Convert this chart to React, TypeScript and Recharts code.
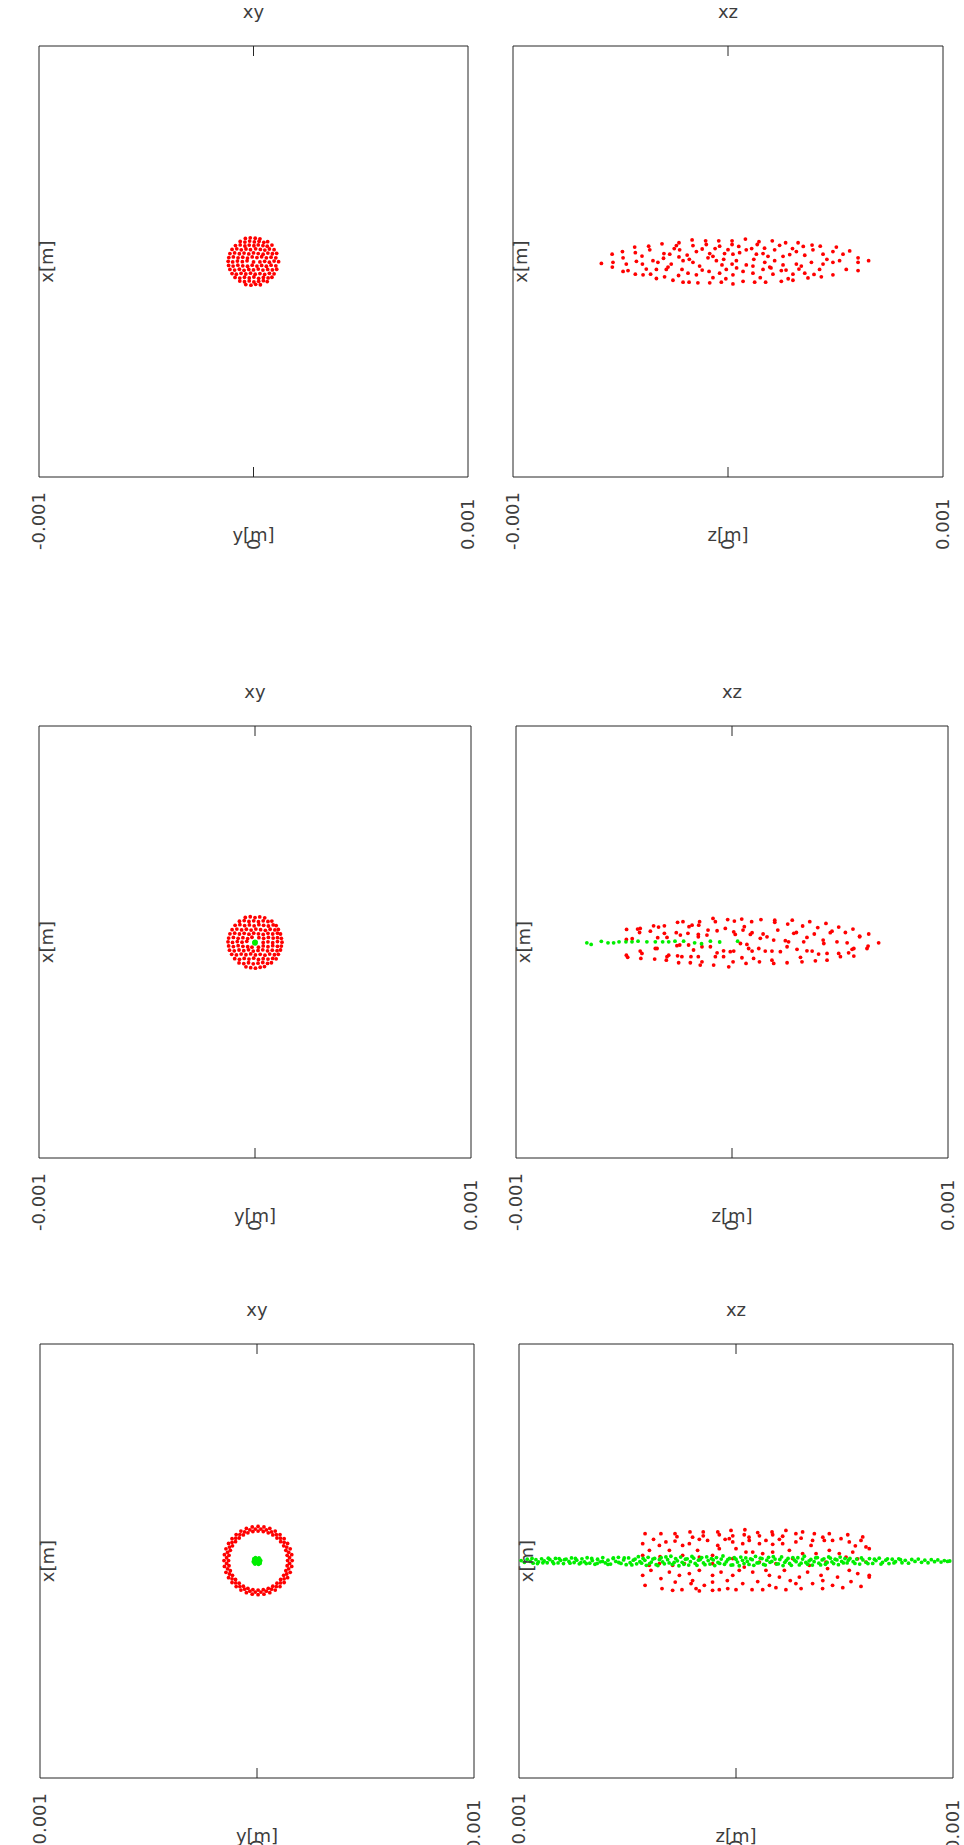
import React from 'react';
import { ScatterChart, Scatter, XAxis, YAxis } from 'recharts';

type P = [number, number];

// ---- text / ticks ----
const axisTicks = [-0.001, 0, 0.001];
const tickLabels = ['-0.001', '0', '0.001'];
const titles = ['xy', 'xz', 'xy', 'xz', 'xy', 'xz'];
const hLabels = ['y[m]', 'z[m]', 'y[m]', 'z[m]', 'y[m]', 'z[m]'];
const vLabel = 'x[m]';

// ---- data (micrometres: [horizontal, vertical]) ----
const p1Red: P[] = [
  [-38,107],[-15,110],[8,108],[30,105],
  [-62,93],[-40,90],[-18,95],[4,91],[26,94],[48,89],[66,92],
  [-84,74],[-62,77],[-40,72],[-20,76],[2,73],[22,77],[44,74],[64,71],[86,76],
  [-100,56],[-78,59],[-57,54],[-35,58],[-14,55],[10,59],[32,56],[53,53],[74,58],[96,55],
  [-110,37],[-88,40],[-66,36],[-44,39],[-22,35],[0,40],[22,37],[45,34],[67,39],[88,36],[108,38],
  [-115,18],[-94,21],[-72,17],[-50,20],[-28,16],[-6,21],[16,18],[38,22],[60,17],[82,20],[104,17],
  [-118,1],[-97,-2],[-75,2],[-52,-1],[-30,3],[30,-2],[52,1],[74,-3],[96,2],[117,-1],[0,-2],
  [-116,-18],[-95,-21],[-73,-17],[-50,-20],[-28,-22],[-6,-17],[16,-21],[38,-18],[60,-22],[82,-17],[104,-20],
  [-110,-37],[-88,-40],[-66,-36],[-44,-41],[-22,-37],[0,-39],[22,-35],[44,-40],[66,-37],[88,-39],[108,-36],
  [-100,-56],[-80,-59],[-58,-55],[-36,-58],[-14,-54],[8,-59],[30,-56],[52,-60],[74,-55],[96,-57],
  [-86,-74],[-64,-77],[-42,-73],[-20,-76],[2,-72],[24,-78],[46,-74],[68,-76],[86,-73],
  [-64,-91],[-42,-94],[-20,-90],[2,-95],[24,-92],[46,-89],[64,-93],
  [-36,-107],[-12,-110],[10,-106],[32,-108],
];

const p2Red: P[] = [
  [-307,82],[-228,87],[-167,100],[-104,96],[-43,96],[19,96],[81,104],[144,92],[206,96],[268,87],[326,87],[391,76],[429,71],[504,67],
  [-240,74],[-163,74],[-101,79],[-39,71],[19,79],[136,79],
  [-539,34],[-491,46],[-434,67],[-431,41],[-369,71],[-364,54],[-298,37],[-271,34],[-228,21],[-225,54],[-147,46],[-85,37],[-70,24],[-16,37],[23,34],[54,41],[85,54],[132,34],[163,37],[186,24],[217,54],[256,24],[287,32],[318,46],[357,29],[395,54],[442,34],[488,46],[535,34],[566,49],[605,17],
  [-589,-9],[-535,-4],[-538,-26],[-488,17],[-473,-12],[-426,1],[-398,-12],[-349,4],[-326,-4],[-279,-26],[-264,-12],[-209,4],[-163,-4],[-132,-21],[-93,17],[-54,4],[-28,-16],[19,-12],[39,4],[85,-16],[116,-21],[171,-4],[194,-26],[217,4],[256,-16],[318,-12],[341,-21],[388,-4],[442,-12],[488,-4],[519,4],[605,-4],[654,4],
  [-488,-46],[-465,-42],[-431,-59],[-395,-62],[-360,-59],[-333,-37],[-287,-37],[-214,-37],[-186,-54],[-147,-62],[-88,-46],[-39,-54],[-8,-37],[23,-62],[70,-46],[116,-54],[163,-37],[209,-59],[248,-42],[302,-59],[357,-54],[426,-37],[488,-62],[550,-37],[605,-42],
  [-333,-79],[-295,-71],[-256,-87],[-209,-96],[-181,-96],[-140,-99],[-85,-99],[-31,-96],[23,-104],[70,-92],[124,-96],[175,-96],[248,-92],[302,-87],[372,-76],[434,-71],
  [-250,60],[-190,30],[-120,58],[-60,60],[0,55],[50,70],[110,60],[170,62],[240,75],[300,60],[350,70],[-400,25],[-300,15],[-120,-40],[-70,-75],[-10,-80],[40,-30],[150,-75],[200,-30],[280,-80],[330,-35],[400,-60],[-230,-65],[-380,-35],[460,10],[-180,10],[-20,10],[120,10],[270,-40],
];

const p3Red: P[] = [
  [-45,114],[-22,117],[0,113],[22,116],[45,112],
  [-72,96],[-50,99],[-28,95],[-6,98],[16,94],[38,98],[60,95],[78,97],
  [-92,77],[-70,80],[-48,76],[-26,79],[-4,75],[18,80],[40,77],[62,74],[84,79],[98,76],
  [-106,57],[-84,60],[-62,56],[-40,59],[-18,55],[4,60],[26,57],[48,54],[70,59],[92,56],[108,58],
  [-116,38],[-94,41],[-72,37],[-50,40],[-28,36],[-6,41],[16,38],[38,35],[60,40],[82,37],[104,41],[118,37],
  [-122,18],[-100,21],[-78,17],[-56,20],[-34,16],[-14,22],[18,20],[40,17],[62,21],[84,18],[104,20],[122,17],
  [-125,1],[-104,-2],[-82,2],[-60,-1],[-38,3],[38,-2],[60,1],[82,-3],[104,2],[125,-1],
  [-122,-18],[-100,-21],[-78,-17],[-56,-20],[-34,-22],[-14,-24],[16,-24],[38,-18],[60,-22],[82,-17],[104,-20],[122,-19],
  [-118,-38],[-96,-41],[-74,-37],[-52,-40],[-30,-36],[-8,-42],[14,-39],[36,-36],[58,-41],[80,-38],[102,-40],[118,-37],
  [-108,-57],[-86,-60],[-64,-56],[-42,-59],[-20,-55],[2,-60],[24,-57],[46,-61],[68,-56],[90,-59],[108,-57],
  [-94,-77],[-72,-80],[-50,-76],[-28,-79],[-6,-75],[16,-81],[38,-77],[60,-79],[82,-76],[98,-78],
  [-74,-97],[-52,-100],[-30,-96],[-8,-101],[14,-98],[36,-95],[58,-99],[76,-96],
  [-42,-115],[-20,-119],[2,-121],[24,-117],[44,-114],
];
const p3Green: P[] = [[0,-3],[5,0],[-5,-2],[2,-8],[-3,2],[4,-6],[-4,-7],[1,3]];

const p4Red: P[] = [
  [-88,109],[-77,94],[-20,104],[11,97],[45,106],[91,94],[134,104],[198,101],[198,91],[258,83],[279,101],[327,74],[360,94],[397,67],[435,86],[463,50],[494,69],[525,44],[560,60],[591,27],[633,37],[679,-4],
  [-150,94],[-154,78],[-199,71],[-185,78],[-252,91],[-227,94],[-313,75],[-340,69],[-363,75],[-425,63],[-437,60],[-488,58],
  [-489,12],[-462,15],[-428,44],[-378,50],[-344,20],[-301,21],[-313,40],[-258,43],[-239,32],[-204,40],[-156,35],[-156,24],[-116,32],[-111,55],[-69,52],[-31,63],[8,47],[15,35],[51,55],[57,71],[93,43],[85,35],[131,17],[144,37],[162,24],[193,9],[212,55],[247,6],[262,1],[298,44],[286,40],[332,1],[347,21],[381,37],[422,9],[425,-7],[455,43],[486,1],[533,-4],[564,-30],[591,24],
  [-425,-42],[-417,-53],[-355,-30],[-347,-30],[-301,-68],[-293,-61],[-255,-17],[-242,-14],[-201,-14],[-178,-37],[-139,-22],[-100,-22],[-69,-50],[-39,-41],[-8,-45],[8,-42],[39,-7],[69,-11],[77,-30],[93,-42],[124,-30],[154,-42],[185,-42],[224,-45],[255,-22],[301,-34],[347,-41],[371,-42],[401,-56],[440,-53],[494,-53],[540,-50],[556,-34],[625,-30],[630,-19],
  [-489,-61],[-483,-71],[-422,-76],[-358,-79],[-304,-84],[-252,-64],[-232,-68],[-247,-96],[-190,-68],[-193,-96],[-156,-68],[-139,-92],[-147,-107],[-85,-107],[-77,-68],[-39,-68],[-15,-115],[5,-92],[46,-73],[65,-99],[100,-76],[127,-92],[185,-84],[193,-99],[255,-96],[317,-71],[324,-92],[386,-87],[440,-84],[502,-68],[564,-65],
];
const p4Green: P[] = [
  [-672,-4],[-652,-11],[-605,3],[-574,-4],[-548,-4],[-523,1],[-491,1],[-463,1],[-435,4],[-394,1],
  [-355,1],[-321,1],[-293,1],[-264,4],[-224,4],[-173,-4],[-141,-8],[-100,4],[-57,0],[26,4],
];

const p5Red: P[] = [
  [162,2],[160,29],[153,56],[141,81],[125,103],[106,122],[84,138],[59,150],[32,157],[5,159],
  [150,15],[146,40],[137,64],[125,86],[108,105],[89,122],[67,134],[43,143],[18,147],
  [141,2],[139,26],[133,49],[123,70],[109,89],[92,106],[73,120],[52,130],[29,136],[5,138],
  [-22,157],[-49,150],[-74,138],[-96,122],[-115,103],[-131,81],[-143,56],[-150,29],[-152,2],
  [-8,147],[-33,143],[-57,134],[-79,122],[-98,105],[-115,86],[-127,64],[-136,40],[-140,15],
  [-19,136],[-42,130],[-63,120],[-82,106],[-99,89],[-113,70],[-123,49],[-129,26],[-131,2],
  [-150,-25],[-143,-52],[-131,-77],[-115,-99],[-96,-118],[-74,-134],[-49,-146],[-22,-153],[5,-155],
  [-140,-11],[-136,-36],[-127,-60],[-115,-82],[-98,-101],[-79,-118],[-57,-130],[-33,-139],[-8,-143],
  [-129,-22],[-123,-45],[-113,-66],[-99,-85],[-82,-102],[-63,-116],[-42,-126],[-19,-132],[5,-134],
  [32,-153],[59,-146],[84,-134],[106,-118],[125,-99],[141,-77],[153,-52],[160,-25],
  [18,-143],[43,-139],[67,-130],[89,-118],[108,-101],[125,-82],[137,-60],[146,-36],[150,-11],
  [29,-132],[52,-126],[73,-116],[92,-102],[109,-85],[123,-66],[133,-45],[139,-22],
];
const p5Green: P[] = [
  [0,0],[10,2],[-10,-2],[3,10],[-4,9],[3,-10],[-5,-9],[15,-5],[-15,5],[13,9],[-12,-10],
  [7,-15],[-7,15],[17,2],[-17,-3],[9,14],[-9,-14],[14,-11],[-14,11],
];

const p6Red: P[] = [
  [-419,126],[-346,126],[-281,126],[-212,134],[-151,134],[-84,134],[-23,141],[41,144],[100,131],[166,134],[230,141],[276,126],[307,134],[361,126],[430,126],[515,121],[584,111],[-272,112],[-151,116],[-77,121],[-15,116],[38,121],[108,116],[169,121],[215,114],
  [-430,80],[-353,72],[-323,88],[-281,92],[-246,72],[-215,80],[-169,100],[-131,95],[-84,72],[-31,103],[-15,88],[31,80],[61,95],[108,80],[138,95],[169,77],[215,80],[276,88],[353,95],[346,72],[407,95],[445,95],[484,103],[522,88],[576,95],[599,65],
  [-399,49],[-307,49],[-246,26],[-177,49],[-108,26],[-77,57],[0,57],[46,41],[77,41],[123,34],[169,41],[246,49],[307,34],[369,34],[430,49],[476,34],[538,41],[614,57],
  [-430,26],[-353,-12],[-292,-20],[-238,-12],[-169,18],[-108,-12],[-15,11],[38,-28],[108,-5],[184,-12],[261,11],[338,-20],[415,-5],[507,18],[599,-5],
  [-430,-66],[-392,-43],[-346,-81],[-307,-51],[-261,-66],[-215,-58],[-169,-43],[-108,-66],[-69,-51],[-15,-66],[15,-43],[77,-51],[138,-43],[154,-66],[200,-74],[223,-43],[292,-74],[330,-51],[392,-66],[422,-35],[468,-74],[522,-43],[561,-58],[614,-66],
  [-419,-112],[-341,-127],[-280,-97],[-249,-132],[-207,-104],[-184,-127],[-146,-112],[-108,-97],[-77,-132],[-38,-127],[0,-132],[31,-104],[74,-132],[123,-132],[154,-112],[184,-123],[230,-132],[276,-104],[300,-127],[353,-104],[399,-127],[445,-112],[492,-123],[576,-117],[614,-74],[-292,-135],[-169,-138],[-108,-135],
  [-380,100],[-200,110],[-50,100],[60,110],[200,100],[300,105],[400,110],[550,70],[-350,20],[-200,-90],[-40,-90],[100,-95],[250,-90],[400,-90],[530,-95],[-400,-20],[560,10],
];
const p6Green: P[] = [
  [-990,2],[-975,-6],[-962,8],[-948,-2],[-935,-10],[-922,6],[-910,-4],[-896,10],[-884,0],[-870,-8],[-858,7],[-845,-3],[-832,12],[-820,-9],[-808,3],[-795,-12],[-783,9],[-770,-2],[-758,14],[-746,-7],
  [-734,4],[-722,-13],[-710,10],[-698,-4],[-686,15],[-674,-10],[-662,2],[-650,-15],[-638,8],[-626,-4],[-614,16],[-602,-9],[-590,4],[-578,-14],[-566,11],[-554,-2],[-542,17],[-530,-11],[-518,5],[-506,-17],
  [-940,12],[-915,-12],[-890,-8],[-865,13],[-840,-12],[-815,11],[-790,6],[-765,-10],[-740,12],[-715,-8],[-690,-12],[-665,12],[-640,-11],[-615,-2],[-590,-16],[-565,14],[-540,-7],[-515,14],
  [-495,14],[-488,-8],[-480,-18],[-473,4],[-465,9],[-458,-13],[-450,20],[-443,-3],[-435,-10],[-428,12],[-420,3],[-413,-20],[-405,17],[-398,-12],[-390,-5],[-383,9],[-375,12],[-368,-17],[-360,-21],[-353,6],
  [-345,15],[-338,-4],[-330,-13],[-323,19],[-315,6],[-308,-9],[-300,22],[-293,-16],[-285,-7],[-278,11],[-270,1],[-263,-22],[-255,18],[-248,-6],[-240,-15],[-233,8],[-225,10],[-218,-19],[-210,-3],[-203,21],
  [-195,13],[-188,-11],[-180,-20],[-173,4],[-165,7],[-158,16],[-150,-9],[-143,-17],[-135,19],[-128,2],[-120,-14],[-113,11],[-105,5],[-98,-21],[-90,16],[-83,-7],[-75,-11],[-68,9],[-60,23],[-53,-15],
  [-45,-4],[-38,6],[-30,12],[-23,-19],[-15,-18],[-8,15],[0,8],[7,-5],[15,-22],[22,18],[30,3],[37,-12],[45,14],[52,-2],[60,-16],[67,10],[75,6],[82,-20],[90,21],[97,-9],
  [105,-8],[112,13],[120,11],[127,-16],[135,-19],[142,4],[150,17],[157,-6],[165,-2],[172,20],[180,9],[187,-14],[195,-13],[202,7],[210,19],[217,-21],[225,-6],[232,3],[240,12],[247,-11],
  [255,-20],[262,16],[270,4],[277,-3],[285,15],[292,-18],[300,-10],[307,9],[315,22],[322,-7],[330,-15],[337,1],[345,7],[352,-19],[360,-3],[367,14],[375,16],[382,-10],[390,-18],[397,5],
  [405,10],[412,-15],[420,-7],[427,19],[435,13],[442,-4],[450,-12],[457,8],[465,5],[472,-17],[480,18],[487,-2],[495,-9],[502,11],
  [512,-9],[525,12],[540,-3],[556,9],[570,-14],[585,5],[600,-6],[615,11],[630,-11],[645,2],[660,13],[675,-7],[690,4],[705,-12],[720,8],[735,-3],[750,10],[765,-8],[780,3],[795,-10],
  [810,7],[825,-2],[840,9],[855,-6],[870,4],[885,-8],[900,6],[915,-3],[930,5],[945,-5],[960,2],[975,-2],[985,0],
  [518,4],[548,-11],[578,14],[608,-12],[638,8],[668,-14],[698,10],[728,-9],[758,6],
];

const redSets: P[][] = [p1Red, p2Red, p3Red, p4Red, p5Red, p6Red];
const greenSets: P[][] = [[], [], p3Green, p4Green, p5Green, p6Green];

// ---- layout (plot-box geometry in page pixels) ----
const LAYOUT = [
  { left: 39, top: 46, w: 429, h: 431 },
  { left: 513, top: 46, w: 430, h: 431 },
  { left: 39, top: 726, w: 432, h: 432 },
  { left: 516, top: 726, w: 432, h: 432 },
  { left: 40, top: 1344, w: 434, h: 434 },
  { left: 519, top: 1344, w: 434, h: 434 },
];
const OUT = { top: 50, right: 20, bottom: 90, left: 20 }; // space around the plot box
const AXS = 1; // axis band size
const MARGIN = { top: OUT.top - AXS, right: OUT.right - AXS, bottom: OUT.bottom - AXS, left: OUT.left - AXS };
const FONT = 'DejaVu Sans';
const TXT = '#3d3d3d';
const AX = '#262626';
const RED = '#ff0000';
const GREEN = '#00ee00';
const DOMAIN: [number, number] = [-0.001, 0.001];

const toRows = (pts: P[]) => pts.map(([a, b]) => ({ h: a * 1e-6, v: b * 1e-6 }));

const labelFor = (value: number) => {
  const i = axisTicks.findIndex((t) => Math.abs(t - value) < 1e-12);
  return i >= 0 ? tickLabels[i] : '';
};

const makeBottomTick = (axisLabel: string) => (p: any) => {
  const { x, y, payload } = p;
  const isZero = Math.abs(payload.value) < 1e-12;
  const ly = y + 73;
  return (
    <g>
      {isZero && <line x1={x} y1={y} x2={x} y2={y - 10} stroke={AX} strokeWidth={1} />}
      <text x={x} y={ly} transform={`rotate(-90 ${x} ${ly})`} textAnchor="start" dy="0.36em"
        fontFamily={FONT} fontSize={18} fill={TXT}>{labelFor(payload.value)}</text>
      {isZero && (
        <text x={x} y={y + 64} textAnchor="middle" fontFamily={FONT} fontSize={18} fill={TXT}>{axisLabel}</text>
      )}
    </g>
  );
};

const makeTopTick = (title: string) => (p: any) => {
  const { x, y } = p;
  return (
    <g>
      <line x1={x} y1={y} x2={x} y2={y + 10} stroke={AX} strokeWidth={1} />
      <text x={x} y={y - 28} textAnchor="middle" fontFamily={FONT} fontSize={18} fill={TXT}>{title}</text>
    </g>
  );
};

const makeLeftTick = (label: string) => (p: any) => {
  const lx = p.x + 14;
  const ly = p.y;
  return (
    <text x={lx} y={ly} transform={`rotate(-90 ${lx} ${ly})`} textAnchor="middle"
      fontFamily={FONT} fontSize={18} fill={TXT}>{label}</text>
  );
};

const dot = (color: string) => (p: any) => <circle cx={p.cx} cy={p.cy} r={1.9} fill={color} />;

function Panel({ idx }: { idx: number }) {
  const L = LAYOUT[idx];
  const W = L.w + OUT.left + OUT.right;
  const H = L.h + OUT.top + OUT.bottom;
  const red = toRows(redSets[idx]);
  const green = toRows(greenSets[idx]);
  return (
    <div style={{ position: 'absolute', left: L.left - OUT.left, top: L.top - OUT.top, width: W, height: H }}>
      <ScatterChart width={W} height={H} margin={MARGIN} style={{ overflow: 'visible' }}>
        <XAxis xAxisId="b" type="number" dataKey="h" orientation="bottom" domain={DOMAIN} ticks={axisTicks}
          allowDataOverflow interval={0} height={AXS} tickSize={0} tickMargin={0} tickLine={false}
          axisLine={{ stroke: AX, strokeWidth: 1 }} tick={makeBottomTick(hLabels[idx])} />
        <XAxis xAxisId="t" type="number" dataKey="h" orientation="top" domain={DOMAIN} ticks={[0]}
          allowDataOverflow interval={0} height={AXS} tickSize={0} tickMargin={0} tickLine={false}
          axisLine={{ stroke: AX, strokeWidth: 1 }} tick={makeTopTick(titles[idx])} />
        <YAxis yAxisId="l" type="number" dataKey="v" orientation="left" domain={DOMAIN} ticks={[0]}
          allowDataOverflow interval={0} width={AXS} tickSize={0} tickMargin={0} tickLine={false}
          axisLine={{ stroke: AX, strokeWidth: 1 }} tick={makeLeftTick(vLabel)} />
        <YAxis yAxisId="r" type="number" dataKey="v" orientation="right" domain={DOMAIN} ticks={[0]}
          allowDataOverflow width={AXS} tickSize={0} tickMargin={0} tickLine={false}
          axisLine={{ stroke: AX, strokeWidth: 1 }} tick={false} />
        <Scatter xAxisId="b" yAxisId="l" data={red} shape={dot(RED)} isAnimationActive={false} />
        <Scatter xAxisId="t" yAxisId="r" data={green} shape={dot(GREEN)} isAnimationActive={false} />
      </ScatterChart>
    </div>
  );
}

export default function App() {
  return (
    <div style={{ position: 'absolute', left: 0, top: 0, width: 964, height: 1845, overflow: 'hidden', background: '#fff' }}>
      {LAYOUT.map((_, i) => (
        <Panel key={i} idx={i} />
      ))}
    </div>
  );
}
